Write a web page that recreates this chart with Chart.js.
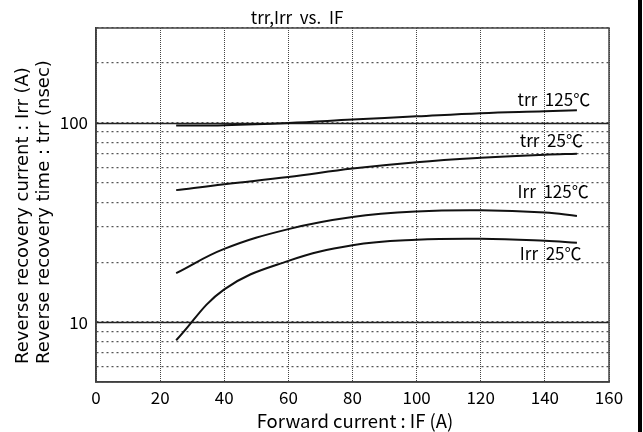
<!DOCTYPE html>
<html>
<head>
<meta charset="utf-8">
<script src="https://cdn.jsdelivr.net/npm/chart.js@4.4.0/dist/chart.umd.min.js"></script>
<style>
  html, body { margin: 0; padding: 0; background: #fff; }
  #wrap { width: 643px; height: 432px; }
</style>
</head>
<body>
<div id="wrap"><canvas id="trrChart" width="643" height="432"></canvas></div>
<script>
// values (IF in A)
const forwardCurrent = [25, 40, 60, 80, 100, 120, 140, 150];
const trr125 = [97, 97.5, 100, 104, 108, 112, 114.5, 116];
const trr25 = [46, 49.3, 53.5, 59, 63.5, 66.8, 69.3, 70];
const irr125 = [17.6, 23.3, 29.3, 33.7, 35.9, 36.4, 35.5, 34.1];
const irr25 = [8.1, 14.6, 20.3, 24.3, 25.9, 26.2, 25.6, 25];

const xTicks = [0, 20, 40, 60, 80, 100, 120, 140, 160];
const yGridValues = [5, 6, 7, 8, 9, 10, 20, 30, 40, 50, 60, 70, 80, 90, 100, 200, 300];
const yLabelValues = [10, 100];
const ySolidValues = [10, 100];

const seriesNames = ["trr  125℃", "trr  25℃", "Irr  125℃", "Irr  25℃"];
const seriesValues = [trr125, trr25, irr125, irr25];

const FONT = "'Noto Sans CJK JP', 'Noto Sans', sans-serif";

// where the curve names sit (data coords)
const labelSpots = [
  { x: 131.5, y: 131 },
  { x: 132.2, y: 81.8 },
  { x: 131.5, y: 45.3 },
  { x: 132.2, y: 22.2 }
];

const sheetText = {
  id: "sheetText",
  beforeDatasetsDraw(chart) {
    const { ctx, chartArea, scales } = chart;
    ctx.save();
    ctx.strokeStyle = "#222";
    ctx.lineWidth = 1.5;
    ySolidValues.forEach(v => {
      const y = Math.round(scales.y.getPixelForValue(v)) + 0.5;
      ctx.beginPath();
      ctx.moveTo(chartArea.left, y);
      ctx.lineTo(chartArea.right, y);
      ctx.stroke();
    });
    ctx.strokeStyle = "#444";
    ctx.lineWidth = 1.5;
    ctx.strokeRect(chartArea.left, chartArea.top, chartArea.right - chartArea.left, chartArea.bottom - chartArea.top);
    ctx.restore();
  },
  afterDraw(chart) {
    const { ctx, scales } = chart;
    ctx.save();
    ctx.fillStyle = "#000";
    ctx.textBaseline = "middle";

    ctx.font = "17px " + FONT;
    ctx.textAlign = "center";
    ctx.fillText("trr,Irr  vs.  IF", 297, 18);
    ctx.font = "18.5px " + FONT;
    ctx.fillText("Forward current : IF (A)", 355, 421);

    ctx.font = "17px " + FONT;
    ctx.textAlign = "left";
    seriesNames.forEach((name, i) => {
      ctx.fillText(name, scales.x.getPixelForValue(labelSpots[i].x), scales.y.getPixelForValue(labelSpots[i].y));
    });

    ctx.font = "18px 'DejaVu Sans', sans-serif";
    ctx.translate(0, 364);
    ctx.rotate(-Math.PI / 2);
    ctx.fillText("Reverse recovery current : Irr (A)", 0, 23);
    ctx.fillText("Reverse recovery time : trr (nsec)", 0, 44);
    ctx.restore();

    // black edge on the right of the scan
    ctx.save();
    ctx.fillStyle = "#000";
    ctx.fillRect(638, 0, 4, 432);
    ctx.restore();
  }
};

document.addEventListener("DOMContentLoaded", function () {
  const ctx = document.getElementById("trrChart").getContext("2d");

  new Chart(ctx, {
    type: "line",
    data: {
      datasets: seriesValues.map((vals, i) => ({
        label: seriesNames[i],
        data: forwardCurrent.map((x, j) => ({ x: x, y: vals[j] })),
        borderColor: "#111",
        borderWidth: 2,
        pointRadius: 0,
        fill: false,
        tension: 0.4
      }))
    },
    options: {
      responsive: false,
      animation: false,
      layout: { padding: { top: 28, right: 34, left: 0, bottom: 0 } },
      plugins: {
        legend: { display: false },
        title: { display: false },
        tooltip: { enabled: false }
      },
      scales: {
        x: {
          type: "linear",
          min: 0,
          max: 160,
          afterBuildTicks: axis => { axis.ticks = xTicks.map(v => ({ value: v })); },
          afterFit: axis => { axis.height = 50; },
          ticks: { color: "#000", font: { family: FONT, size: 17 }, padding: 5, maxRotation: 0 },
          grid: { color: "#444", lineWidth: 1, drawTicks: false },
          border: { display: true, color: "#333", width: 1.5, dash: [1, 1] }
        },
        y: {
          type: "logarithmic",
          min: 5,
          max: 300,
          afterBuildTicks: axis => { axis.ticks = yGridValues.map(v => ({ value: v })); },
          afterFit: axis => { axis.width = 96; },
          ticks: {
            color: "#000",
            font: { family: FONT, size: 17 },
            padding: 8,
            autoSkip: false,
            callback: v => (yLabelValues.includes(v) ? String(v) : "")
          },
          grid: { color: "#555", lineWidth: 1.2, drawTicks: false },
          border: { display: true, color: "#333", width: 1.5, dash: [2, 3] }
        }
      }
    },
    plugins: [sheetText]
  });
});
</script>
</body>
</html>
